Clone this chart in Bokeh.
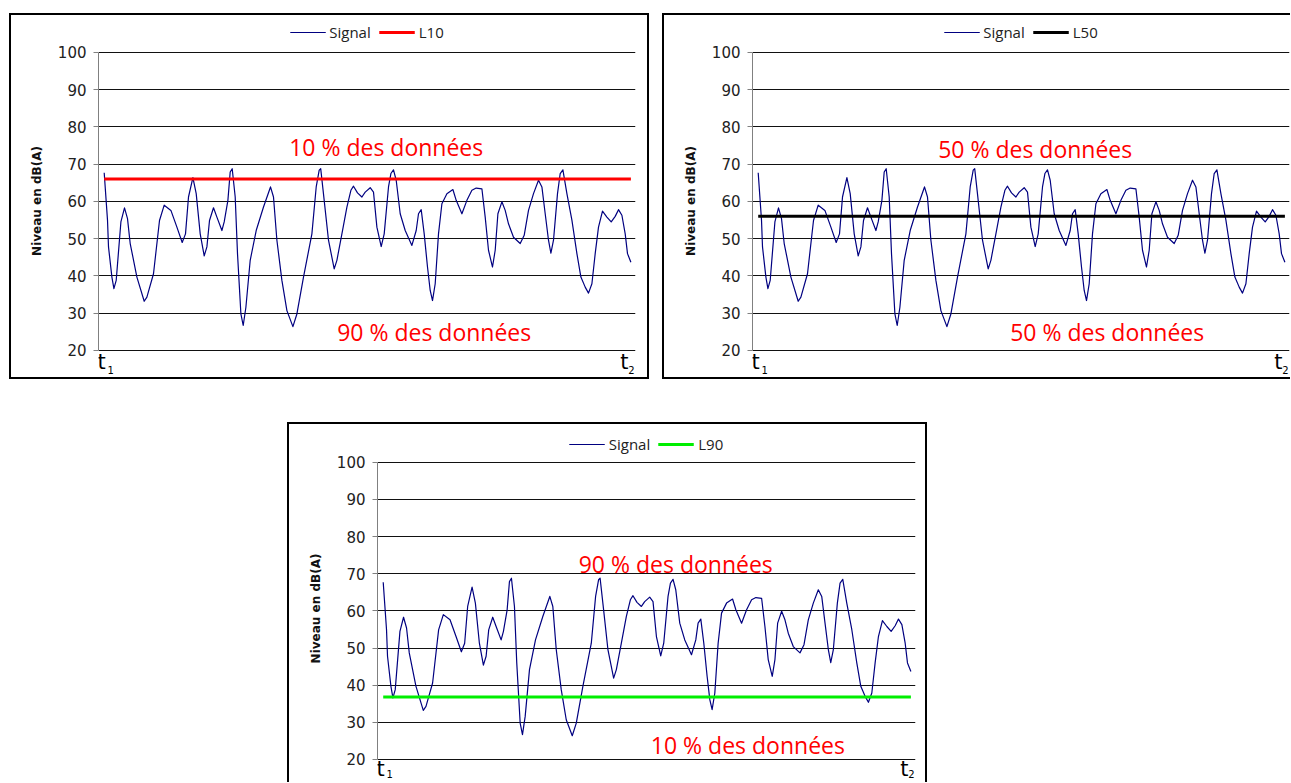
from bokeh.plotting import figure
from bokeh.models import Range1d, FixedTicker, Label, Legend, LegendItem, Spacer
from bokeh.layouts import row, column
from bokeh.embed import file_html
from bokeh.resources import INLINE

# ---- data -----------------------------------------------------------------
time_s = [0, 3.3, 4.3, 7.7, 9.7, 12, 16.7, 20.3, 23.3, 26, 32.7, 40, 42.7, 49.3, 55.3,
          60, 66.7, 72.7, 78, 81.3, 84.3, 88.7, 92, 96, 100, 102.7, 105.3, 109.3, 112.7,
          117.7, 120, 123.7, 126, 128, 131, 133.3, 136.7, 139, 141.7, 146, 152, 159.3,
          166.3, 169.3, 172.7, 177.7, 182.7, 188.7, 192.7, 199.3, 207.7, 212, 215, 216.5,
          219.5, 224.3, 230, 232.7, 237.7, 242.7, 246.7, 249.3, 253.3, 257.7, 261, 266,
          269.3, 272.7, 277, 280, 284.3, 286.7, 289.3, 292, 296, 301, 307.7, 312, 314.3,
          317, 320, 323.3, 326, 328.3, 331, 334.3, 337.7, 342.7, 348.7, 352, 357.7, 362.7,
          367.7, 372, 377.7, 381, 384.3, 388.3, 391, 393.7, 397.7, 401, 404.3, 409.3, 416,
          420, 424.3, 429.3, 434.3, 437.7, 441, 444.3, 446.7, 449.3, 453.3, 456, 458.7,
          462.7, 467.7, 472.7, 476.7, 481, 484.3, 487.7, 491, 494.3, 498.3, 502.7, 507,
          511, 514.3, 517.7, 521, 523.3, 526.7]
level_db = [67.7, 55, 47.8, 39.7, 36.6, 38.8, 54.5, 58.3, 55.4, 48.7, 39.7, 33.2, 34.3,
            40.6, 54.9, 59, 57.6, 53.1, 49, 51.3, 61.2, 66.4, 62.1, 51.3, 45.4, 47.8, 54.9,
            58.3, 55.8, 52.2, 54.5, 60.3, 67.9, 68.8, 61.2, 46, 29.8, 26.7, 31.6, 44.2,
            52.2, 58.5, 63.9, 61.2, 49.6, 38.8, 30.7, 26.4, 29.8, 39.7, 51.3, 63.9, 68.4,
            68.8, 61.5, 49.6, 41.9, 44.2, 51.3, 58.5, 63, 64.1, 62.3, 61.2, 62.5, 63.7,
            62.5, 53.1, 47.9, 51.3, 63.9, 67.5, 68.5, 65.7, 56.7, 52.2, 48.2, 52.2, 56.7,
            57.8, 51.3, 42.4, 36.1, 33.4, 37.9, 51.3, 59.4, 62.1, 63.2, 60.3, 56.7, 60.3,
            63, 63.6, 63.4, 55.8, 46.9, 42.4, 46.9, 56.7, 59.9, 57.6, 54, 50.4, 48.7, 50.9,
            57.6, 62.1, 65.7, 63.9, 56.7, 49.6, 46.1, 49.6, 62.1, 67.5, 68.5, 62.1, 55, 46,
            39.7, 37, 35.4, 37.9, 46, 53.1, 57.4, 55.8, 54.5, 56, 57.8, 56.3, 51.3, 46, 43.7]

percentile_names = ["L10", "L50", "L90"]
percentile_values = [66.0, 56.0, 36.8]
percentile_colors = ["#ff0000", "#000000", "#00ee00"]
upper_texts = ["10 % des données", "50 % des données", "90 % des données"]
lower_texts = ["90 % des données", "50 % des données", "10 % des données"]
y_ticks = [20, 30, 40, 50, 60, 70, 80, 90, 100]
y_title = "Niveau en dB(A)"
t_subscripts = ["1", "2"]

SIGNAL_COLOR = "#000080"


def shadow(sides):
    parts = {"l": "inset 2px 0 0 0 #000", "r": "inset -2px 0 0 0 #000",
             "t": "inset 0 2px 0 0 #000", "b": "inset 0 -2px 0 0 #000"}
    return {"box-shadow": ", ".join(parts[s] for s in sides)}


def make_panel(i, width, height, ml, mr, mt, y_lo, y_hi, sides, upper_pos, lower_pos,
               t_dy=(-12, -20)):
    # the frame is extended above 100 and below 20 so that the legend and the
    # t1/t2 marks sit inside it; the axis itself is bounded to 20..100
    p = figure(width=width, height=height, output_backend="svg", toolbar_location=None,
               x_range=Range1d(-5.7, 531.3), y_range=Range1d(y_lo, y_hi),
               min_border_left=ml, min_border_right=mr,
               min_border_top=mt, min_border_bottom=0)
    p.styles = shadow(sides)
    p.outline_line_color = None
    p.background_fill_alpha = 0
    p.border_fill_alpha = 0
    p.xaxis.visible = False
    p.xgrid.visible = False
    p.ygrid.ticker = FixedTicker(ticks=y_ticks)
    p.ygrid.grid_line_color = "#111111"
    p.ygrid.grid_line_width = 1

    ax = p.yaxis[0]
    ax.ticker = FixedTicker(ticks=y_ticks)
    ax.bounds = (y_ticks[0], y_ticks[-1])
    ax.minor_tick_line_color = None
    ax.axis_line_color = "#808080"
    ax.major_tick_line_color = "#808080"
    ax.major_tick_out = 5
    ax.major_tick_in = 0
    ax.major_label_standoff = 7
    ax.major_label_text_font = "DejaVu Sans"
    ax.major_label_text_font_size = "15px"
    ax.major_label_text_color = "#222222"
    ax.axis_label = y_title
    ax.axis_label_text_font = "DejaVu Sans"
    ax.axis_label_text_font_style = "bold"
    ax.axis_label_text_font_size = "12px"
    ax.axis_label_text_color = "#111111"
    ax.axis_label_standoff = 11

    sig = p.line(time_s, level_db, line_color=SIGNAL_COLOR, line_width=1.2,
                 line_join="round")
    lev = p.line([time_s[0], time_s[-1]], [percentile_values[i]] * 2,
                 line_color=percentile_colors[i], line_width=3)

    legend = Legend(items=[LegendItem(label="Signal", renderers=[sig]),
                           LegendItem(label=percentile_names[i], renderers=[lev])],
                    orientation="horizontal", location="top_center",
                    border_line_color=None, background_fill_alpha=0,
                    padding=0, margin=0, spacing=8, label_standoff=4,
                    glyph_width=36, glyph_height=16, label_height=16,
                    label_text_font="Open Sans", label_text_font_size="15px",
                    label_text_color="#222222")
    p.add_layout(legend)

    for txt, (xx, yy) in ((upper_texts[i], upper_pos), (lower_texts[i], lower_pos)):
        p.add_layout(Label(x=xx, y=yy, text=txt, text_align="center",
                           text_baseline="middle", text_color="#ff0000",
                           text_font="Open Sans", text_font_size="23px"))

    # t1 / t2 marks under both ends of the time axis
    x0, x1 = p.x_range.start, p.x_range.end
    ybase = y_ticks[0]
    for xx, al, dx_t, dx_s, sub in ((x0, "left", -1, 9, t_subscripts[0]),
                                    (x1, "right", -7, -1, t_subscripts[1])):
        p.add_layout(Label(x=xx, y=ybase, text="t", text_align=al, text_baseline="middle",
                           x_offset=dx_t, y_offset=t_dy[0], text_font="DejaVu Sans",
                           text_font_size="21px", text_color="black"))
        p.add_layout(Label(x=xx, y=ybase, text=sub, text_align=al, text_baseline="middle",
                           x_offset=dx_s, y_offset=t_dy[1], text_font="DejaVu Sans",
                           text_font_size="10px", text_color="black"))
    return p


p1 = make_panel(0, 640, 366, 89, 14, 9, 12.2, 108.05, "ltrb", (282, 74.6), (330, 25.0))
p2 = make_panel(1, 628, 366, 90, 1, 9, 12.2, 108.05, "ltb", (277, 74.1), (349, 25.0))
p3 = make_panel(2, 640, 360, 90, 12, 12, 13.8, 107.5, "ltr", (292, 72.6), (364, 23.9),
                t_dy=(-10, -15))

layout = column(Spacer(height=13),
                row(Spacer(width=9), p1, Spacer(width=13), p2),
                Spacer(height=43),
                row(Spacer(width=287), p3))

open("out.html", "w").write(file_html(layout, INLINE))
